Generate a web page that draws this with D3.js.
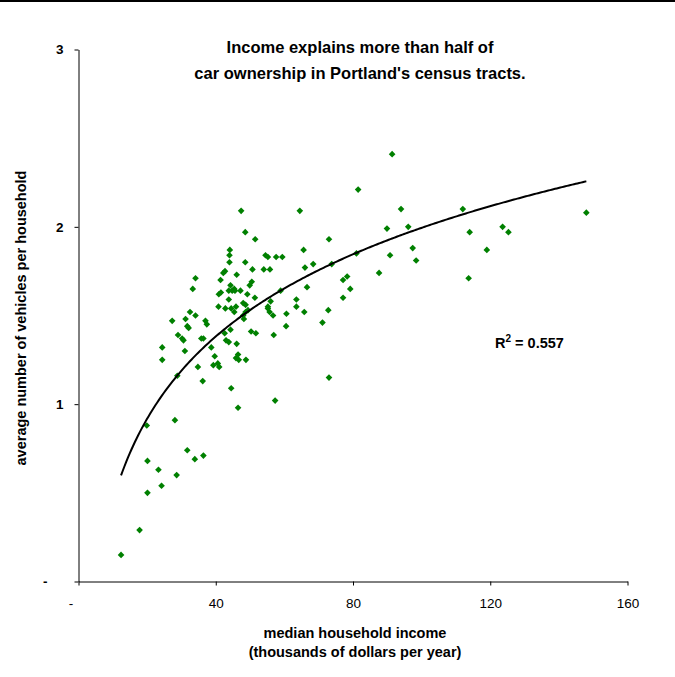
<!DOCTYPE html>
<html>
<head>
<meta charset="utf-8">
<script src="https://cdn.jsdelivr.net/npm/d3@7.9.0/dist/d3.min.js"></script>
<style>
    body { margin: 0; background: #fff; }
    svg { display: block; font-family: Arial, "Liberation Sans", sans-serif; }
</style>
</head>
<body>
<svg id="chart" width="675" height="677"></svg>
<script>
// ===== DATA =====

// median household income, thousands of dollars per year
const income = [
    47.4, 64.5, 48.6, 51.5, 44.1, 44.0, 54.5, 55.2, 57.6, 59.4,
    44.0, 48.6, 50.7, 54.0, 55.8, 42.7, 42.2, 46.1, 34.1, 41.4,
    50.5, 49.9, 33.3, 44.3, 45.4, 44.8, 45.6, 43.8, 47.2, 41.5,
    40.9, 49.2, 58.9, 51.4, 43.8, 56.0, 63.5, 48.0, 48.7, 55.2,
    55.2, 55.7, 56.7, 63.5, 40.8, 42.8, 44.5, 45.9, 45.4, 49.4,
    48.7, 48.0, 32.5, 34.1, 31.2, 27.3, 48.2, 60.6, 37.0, 37.4,
    31.7, 32.1, 44.3, 60.5, 50.3, 51.7, 42.6, 29.0, 56.9, 30.2,
    30.6, 35.8, 36.4, 43.0, 43.8, 46.1, 38.7, 24.4, 31.0, 39.7,
    46.5, 45.9, 46.7, 48.8, 24.4, 40.6, 39.3, 41.0, 34.8, 28.8,
    36.2, 44.5, 57.3, 46.5, 28.1, 19.9, 31.7, 33.9, 36.4, 20.1,
    23.3, 28.6, 24.2, 20.1, 17.8, 12.4, 91.4, 81.5, 94.0, 89.9,
    96.1, 73.0, 65.6, 97.4, 90.8, 81.0, 73.8, 68.4, 66.0, 98.4,
    87.6, 77.1, 78.3, 66.6, 79.2, 77.1, 65.8, 72.8, 71.1, 73.0,
    112.0, 148.0, 114.0, 123.6, 125.3, 119.0, 113.7
];

// average number of vehicles per household
const vehicles = [
    2.09, 2.09, 1.97, 1.93, 1.87, 1.84, 1.84, 1.83, 1.83, 1.83,
    1.80, 1.80, 1.76, 1.76, 1.76, 1.75, 1.74, 1.73, 1.71, 1.70,
    1.69, 1.67, 1.65, 1.67, 1.65, 1.64, 1.64, 1.64, 1.64, 1.63,
    1.62, 1.62, 1.64, 1.60, 1.59, 1.58, 1.59, 1.57, 1.56, 1.55,
    1.54, 1.52, 1.50, 1.55, 1.55, 1.54, 1.54, 1.55, 1.52, 1.53,
    1.52, 1.50, 1.52, 1.50, 1.48, 1.47, 1.48, 1.51, 1.47, 1.45,
    1.44, 1.43, 1.42, 1.44, 1.41, 1.40, 1.40, 1.39, 1.39, 1.37,
    1.36, 1.37, 1.37, 1.36, 1.35, 1.34, 1.32, 1.32, 1.30, 1.27,
    1.28, 1.26, 1.25, 1.25, 1.25, 1.23, 1.22, 1.21, 1.21, 1.16,
    1.13, 1.09, 1.02, 0.98, 0.91, 0.88, 0.74, 0.69, 0.71, 0.68,
    0.63, 0.60, 0.54, 0.50, 0.29, 0.15, 2.41, 2.21, 2.10, 1.99,
    2.00, 1.93, 1.87, 1.88, 1.84, 1.85, 1.79, 1.79, 1.77, 1.81,
    1.74, 1.70, 1.72, 1.66, 1.65, 1.60, 1.52, 1.53, 1.46, 1.15,
    2.10, 2.08, 1.97, 2.00, 1.97, 1.87, 1.71
];

const xTicks = [0, 40, 80, 120, 160];
const yTicks = [0, 1, 2, 3];

const titleLines = ['Income explains more than half of', "car ownership in Portland's census tracts."];
const xTitleLines = ['median household income', '(thousands of dollars per year)'];
const yTitle = 'average number of vehicles per household';
const rSquaredText = '0.557';

// ===== SETUP =====

const svg = d3.select('#chart');

// thin rule along the top edge
svg.append('line')
    .attr('x1', 0).attr('x2', 675)
    .attr('y1', 1).attr('y2', 1)
    .attr('stroke', '#000')
    .attr('stroke-width', 2);

let x = d3.scaleLinear().domain([0, 160]).range([78.5, 627.5]);
let y = d3.scaleLinear().domain([0, 3]).range([581.5, 49.5]);

let points = income.map((inc, i) => ({ inc: inc, veh: vehicles[i] }));

// zero is shown as a dash, like the accounting format
const fmt = (d) => d === 0 ? '-' : d;

// ===== AXES =====

let yAxis = svg.append('g')
    .attr('transform', `translate(${x(0)},0)`)
    .call(d3.axisLeft(y).tickValues(yTicks).tickSize(4).tickSizeOuter(0).tickPadding(11).tickFormat(fmt));

yAxis.selectAll('text')
    .attr('font-size', 13.5)
    .attr('font-weight', 'bold')
    .attr('fill', '#000')
    .attr('font-family', 'Arial, "Liberation Sans", sans-serif');
yAxis.selectAll('.tick').filter(d => d === 0).select('text').attr('dx', -16);

let xAxis = svg.append('g')
    .attr('transform', `translate(0,${y(0)})`)
    .call(d3.axisBottom(x).tickValues(xTicks).tickSize(4).tickSizeOuter(0).tickPadding(13).tickFormat(fmt));

xAxis.selectAll('text')
    .attr('font-size', 13.5)
    .attr('fill', '#000')
    .attr('font-family', 'Arial, "Liberation Sans", sans-serif');
xAxis.selectAll('.tick').filter(d => d === 0).select('text').attr('dx', -8);

svg.selectAll('.domain, .tick line').attr('stroke', '#000');

// ===== POINTS =====

let diamond = d3.symbol().type(d3.symbolSquare).size(22);

svg.append('g')
    .selectAll('path')
    .data(points)
    .join('path')
    .attr('d', diamond)
    .attr('transform', d => `translate(${x(d.inc)},${y(d.veh)}) rotate(45)`)
    .attr('fill', '#008000');

// ===== LOG TRENDLINE (least squares on ln x) =====

let lx = points.map(d => Math.log(d.inc));
let mx = d3.mean(lx);
let my = d3.mean(vehicles);
let slope = d3.sum(lx, (v, i) => (v - mx) * (vehicles[i] - my)) / d3.sum(lx, v => (v - mx) ** 2);
let intercept = my - slope * mx;

let [minInc, maxInc] = d3.extent(income);
let trend = d3.range(minInc, maxInc, 0.5).concat([maxInc])
    .map(v => ({ inc: v, veh: intercept + slope * Math.log(v) }));

svg.append('path')
    .datum(trend)
    .attr('fill', 'none')
    .attr('stroke', '#000')
    .attr('stroke-width', 2)
    .attr('d', d3.line().x(d => x(d.inc)).y(d => y(d.veh)));

// ===== TEXT =====

let title = svg.append('text')
    .attr('text-anchor', 'middle')
    .attr('font-size', 16.5)
    .attr('font-weight', 'bold');
titleLines.forEach((line, i) => {
    title.append('tspan').attr('x', 360).attr('y', 53 + i * 26).text(line);
});

let xTitle = svg.append('text')
    .attr('text-anchor', 'middle')
    .attr('font-size', 14.5)
    .attr('font-weight', 'bold');
xTitleLines.forEach((line, i) => {
    xTitle.append('tspan').attr('x', 355).attr('y', 638 + i * 19).text(line);
});

svg.append('text')
    .attr('transform', 'translate(26,318) rotate(-90)')
    .attr('text-anchor', 'middle')
    .attr('font-size', 14.5)
    .attr('font-weight', 'bold')
    .text(yTitle);

let r2 = svg.append('text')
    .attr('x', 495)
    .attr('y', 348)
    .attr('font-size', 14.5)
    .attr('font-weight', 'bold');
r2.append('tspan').text('R');
r2.append('tspan').attr('font-size', 10).attr('dy', -6).text('2');
r2.append('tspan').attr('dy', 6).text(' = ' + rSquaredText);
</script>
</body>
</html>
